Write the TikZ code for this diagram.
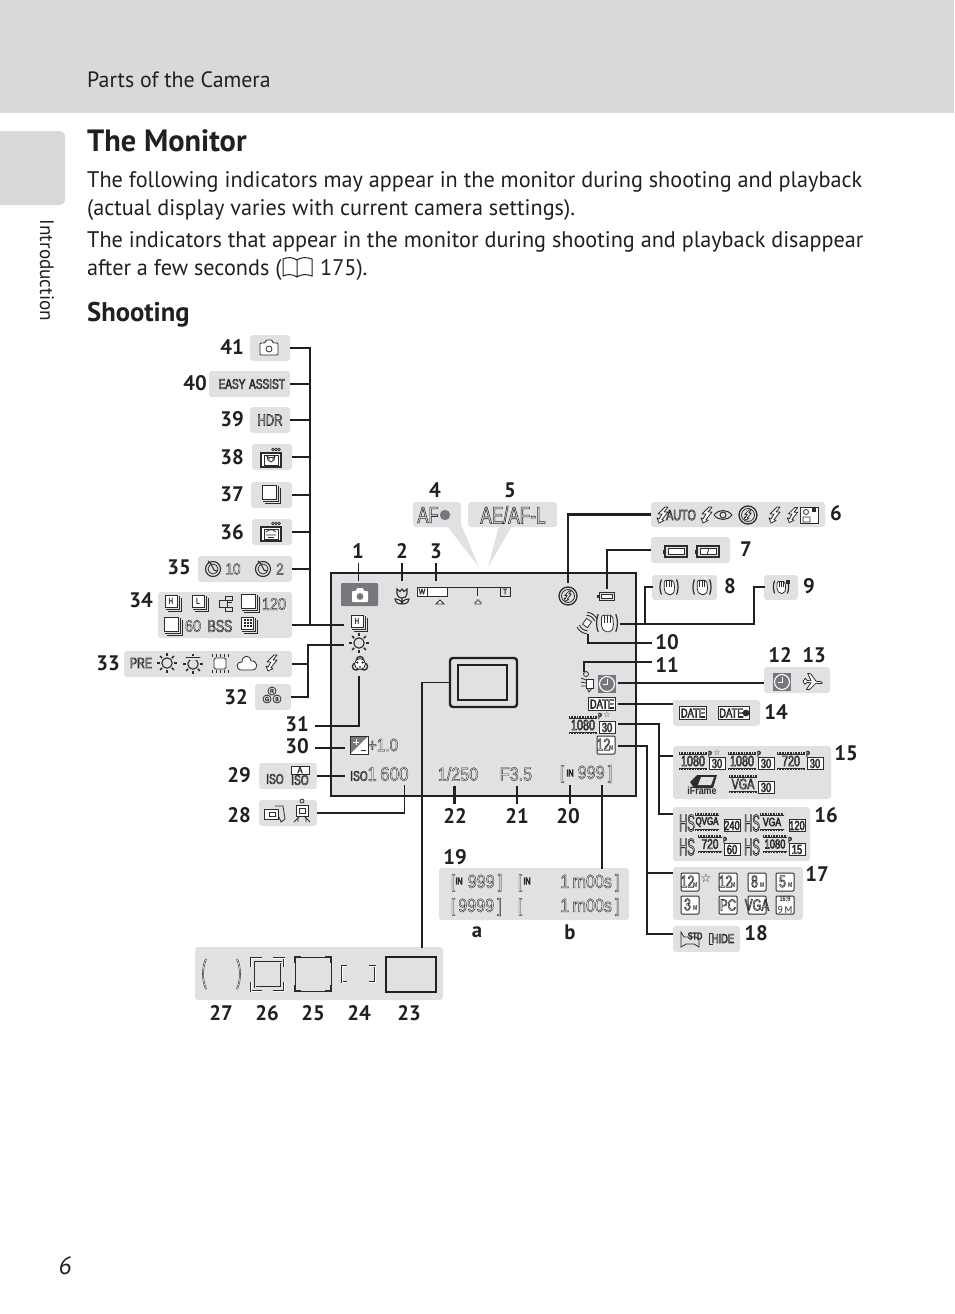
\documentclass[tikz,border=0pt]{standalone}
\usepackage{fontspec}
\usepackage{graphicx}
\setmainfont[FakeStretch=0.985]{PT Sans}
\newfontfamily\icf[FakeStretch=0.72]{Liberation Sans}
\newfontfamily\icn[FakeStretch=0.85]{Liberation Sans}
\newfontfamily\dvf{DejaVu Sans}
\usetikzlibrary{calc}
\definecolor{pan}{HTML}{E0E1E2}
\definecolor{hdr}{HTML}{D9D9D9}
\definecolor{dk}{HTML}{231F20}
\definecolor{ic}{HTML}{2C2C2E}
\definecolor{gr}{HTML}{77787B}
\newcounter{auto}
\newcommand\outl[1]{\special{pdf:code 1 Tr 0.55 w}#1\special{pdf:code 0 Tr 0.3985 w}}
\newcommand\outm[1]{\special{pdf:code 1 Tr 0.38 w}#1\special{pdf:code 0 Tr 0.3985 w}}
\newcommand\outh[1]{\special{pdf:code 1 Tr 0.8 w}#1\special{pdf:code 0 Tr 0.3985 w}}
\tikzset{
  panel/.style={fill=pan,rounded corners=3pt,inner sep=0pt},
  conn/.style={draw=dk,line width=2.5pt},
  thinconn/.style={draw=dk,line width=1.8pt},
  num/.style={font=\bfseries\fontsize{21}{21}\selectfont,text=dk,inner sep=0pt},
  body/.style={anchor=base west,inner sep=0pt,font=\fontsize{22.55}{22.55}\selectfont,text=dk},
  icl/.style={draw=ic,line width=.8pt},
  icw/.style={draw=ic,line width=.8pt,fill=white},
  ictext/.style={inner sep=0pt,text=ic},
}
\newcommand\pnl[5]{\node[panel,minimum width={#4-#2},minimum height={#5-#3}] (#1) at ({(#2+#4)/2},{(#3+#5)/2}) {};}
\newcommand\lab[3]{\stepcounter{auto}\node[num] (L\theauto) at (#1,#2) {#3};}
\newcommand\ot[4]{\stepcounter{auto}\node[ictext] (T\theauto) at (#1,#2) {\icf\fontsize{#3}{#3}\selectfont\outl{#4}};}
\newcommand\on[4]{\stepcounter{auto}\node[ictext] (T\theauto) at (#1,#2) {\icn\fontsize{#3}{#3}\selectfont\outm{#4}};}
\newcommand\hs[2]{\stepcounter{auto}\node[ictext] (T\theauto) at (#1,#2) {\scalebox{.66}[1]{\icf\fontsize{24}{24}\selectfont\outh{HS}}};}
\newcommand\boxt[4]{\stepcounter{auto}\node[ictext,draw=ic,line width=.8pt,fill=white,inner sep=1pt,minimum height=13pt] (T\theauto) at (#1,#2) {\icf\fontsize{#3}{#3}\selectfont\outl{#4}};}
\newcommand\strn[3]{\stepcounter{auto}\node[ictext] (T\theauto) at (#1,#2) {\dvf\fontsize{#3}{#3}\selectfont ☆};}
\newcommand\camout[2]{\begin{scope}[shift={(#1,#2)}]
 \draw[icl,rounded corners=1pt,fill=white] (-9,-5)--(-4,-5)--(-3,-8)--(3,-8)--(4,-5)--(9,-5)--(9,7)--(-9,7)--cycle; \draw[icl] (0,1) circle (3);\end{scope}}
\newcommand\scene[3]{\begin{scope}[shift={(#1,#2)}]
 \draw[icw,line width=1.1pt] (-10,-5) rectangle (10,9);
 \foreach \q in {3,6,9}{\draw[icl,line width=.6pt] (\q-1,-8.5) circle (1.4);}
 \draw[icl,line width=.5pt] (-7,-3) rectangle (7,7);
 \ifnum#3=1 \draw[icl,line width=.8pt] (-4,-2)--(-3,2)--(0,4)--(3,2)--(4,-2)--(2,-.5)--(-2,-.5)--cycle; \fill[ic] (-2,1) circle (.8) (2,1) circle (.8);\else \draw[icl,line width=.8pt] (-5,0)--(-2,-2)--(2,-2)--(5,0) (-5,3)--(5,3) (-3,5.5)--(3,5.5); \fi\end{scope}}
\newcommand\stk[2]{\begin{scope}[shift={(#1,#2)}]
 \draw[icl,line width=.9pt] (-6,9)--(9,9)--(9,-6) (-8,7)--(7,7)--(7,-8);
 \draw[icw,line width=1pt] (-9,-9) rectangle (5,5);\end{scope}}
\newcommand\stks[3]{\begin{scope}[shift={(#1,#2)}]
 \draw[icl,line width=.8pt] (-5,8)--(8,8)--(8,-5) (-7,6)--(6,6)--(6,-7);
 \draw[icw,line width=.9pt] (-8,-8) rectangle (4,4);
 \node[inner sep=0pt,text=ic] (S\theauto x#1) at (-2,-2) {\icf\bfseries\fontsize{9}{9}\selectfont #3};\end{scope}}
\newcommand\timer[2]{\begin{scope}[shift={(#1,#2)}]
 \draw[icl,line width=1.1pt] (0,1) circle (7.5); \draw[icl,line width=.8pt] (0,1) circle (5);
 \draw[icl,line width=1.1pt] (-5,-7)--(-2,-4) (-2,-4)--(1,2)--(4,3);\end{scope}}
\newcommand\sun[2]{\begin{scope}[shift={(#1,#2)}]
 \draw[icl,line width=1.1pt] (0,0) circle (5.2);
 \foreach \a in {0,45,...,315}{\draw[icl,line width=1.5pt] (\a:6.8)--(\a:9.8);}\end{scope}}
\newcommand\bulb[2]{\begin{scope}[shift={(#1,#2)}]
 \draw[icw,rounded corners=1.5pt] (-6,-5) rectangle (6,6);
 \foreach \a in {-8,-4,0,4,8}{\draw[icl] (\a,-9)--(\a,-6) (\a,7)--(\a,10);}\end{scope}}
\newcommand\cloud[2]{\begin{scope}[shift={(#1,#2)}]
 \draw[icw] (-5,7) .. controls (-12,7) and (-11,-2) .. (-5,-1) .. controls (-5,-8) and (3,-9) .. (4,-2) .. controls (11,-3) and (12,7) .. (5,7) -- cycle;\end{scope}}
\newcommand\bolt[2]{\begin{scope}[shift={(#1,#2)}]
 \draw[icw,line join=round] (2,-8)--(-5,-1)--(-1,-1)--(-4,4)--(-6,3)--(-4,8)--(1,5.5)--(-1,4.5)--(5,-3)--(1,-3)--(5,-8)--cycle;\end{scope}}
\newcommand\ring[2]{\begin{scope}[shift={(#1,#2)}]
 \draw[icl,line width=1.3pt] (0,-4) circle (3.6) (-4,2.5) circle (3.6) (4,2.5) circle (3.6);
 \fill[white] (0,0) circle (5.5);
 \draw[icl,line width=.8pt] (0,0) circle (5.5);
 \foreach \a in {90,210,330}{\fill[ic] (\a:3) circle (1.2);}\end{scope}}
\newcommand\batt[4]{\begin{scope}[shift={(#1,#2)},scale=#4]
 \draw[icl,line width=1.1pt] (-11,-5) rectangle (11,6); \draw[icl,line width=1.1pt] (-12.5,-1.5)--(-12.5,2.5);
 \ifnum#3=1 \draw[icl,line width=.8pt,fill=white] (-8,-2.5) rectangle (8,3.5);\else\draw[icl,line width=.8pt,fill=white] (-8,-2.5) rectangle (8,3.5);\draw[icl] (-1,3.5)--(1,-2.5);\fi\end{scope}}
\newcommand\vr[3]{\begin{scope}[shift={(#1,#2)},scale=#3]
 \draw[icl,line width=1.2pt] (-8,-8) .. controls (-10,-3) and (-10,3) .. (-8,8) (8,-8) .. controls (10,-3) and (10,3) .. (8,8);
 \draw[icw,rounded corners=2pt] (-5,-7)--(-5,4)--(-2,8)--(4,8)--(6,3)--(5,-7)--cycle;
 \draw[icl,line width=.5pt] (-2.5,-7)--(-2.5,0) (0,-7)--(0,0) (2.5,-7)--(2.5,0);\end{scope}}
\newcommand\clockg[2]{\begin{scope}[shift={(#1,#2)}]
 \fill[gr] (-9,-9) rectangle (9,9); \draw[white,line width=1.1pt] (0,0) circle (7.5); \draw[white,line width=1pt] (0,-5)--(0,0.5)--(-4,.5);\end{scope}}
\newcommand\film[5]{\begin{scope}[shift={(#1,#2)}]
 \draw[ic,line width=2pt,dash pattern=on .8pt off .8pt] (-#3,-8.2)--(#3,-8.2) (-#3,8.2)--(#3,8.2);
 \draw[icl,line width=.6pt] (-#3,-6.8)--(#3,-6.8) (-#3,6.8)--(#3,6.8);\end{scope}\ot{#1}{#2}{#4}{#5}}
\newcommand\pbx[3]{\begin{scope}[shift={(#1,#2)}]\draw[icw] (-8,-5.5) rectangle (8,6.5);\end{scope}\ot{#1}{#2+.5}{13}{#3}}
\newcommand\mbx[4]{\begin{scope}[shift={(#1,#2)}]\draw[icw,rounded corners=1pt,line width=1pt] (-9,-9) rectangle (9,9);\end{scope}\ot{#1-2.5}{#2-.5}{17}{#3}\stepcounter{auto}\node[ictext] (M\theauto) at (#1+5.3,#2+3.5) {\icf\bfseries\fontsize{7}{7}\selectfont #4};}
\begin{document}
\begin{tikzpicture}[x=1pt,y=-1pt]
\useasboundingbox (0,0) rectangle (954,1314);
% page furniture
\fill[white] (0,0) rectangle (954,1314);
\fill[hdr] (0,0) rectangle (954,113);
\fill[hdr,rounded corners=5pt] (-10,131) rectangle (65,205);
\node[body,font=\fontsize{22.2}{22.2}\selectfont] (head) at (87,87.5) {Parts of the Camera};
\node[body,font=\bfseries\fontsize{30.8}{30.8}\selectfont] (title) at (87,151) {The Monitor};
\node[body] (b1) at (87,187) {The following indicators may appear in the monitor during shooting and playback};
\node[body] (b2) at (87,215) {(actual display varies with current camera settings).};
\node[body] (b3) at (87,247) {The indicators that appear in the monitor during shooting and playback disappear};
\node[body] (b4) at (87,275) {after a few seconds (};
\draw[dk,line width=1pt,fill=white] (297,260) .. controls (293,257) and (287,257) .. (283,259) -- (283,276) .. controls (287,274) and (293,274) .. (297,277) .. controls (301,274) and (307,274) .. (312,276) -- (312,259) .. controls (307,257) and (301,257) .. (297,260) -- (297,277);
\node[body] (b5) at (320,275) {175).};
\node[body,font=\bfseries\fontsize{27}{27}\selectfont] (shoot) at (87,321) {Shooting};
\node[rotate=-90,inner sep=0pt,font=\fontsize{19.5}{19.5}\selectfont,text=dk] (intro) at (47,270.5) {Introduction};
\node[inner sep=0pt,font=\itshape\fontsize{25}{25}\selectfont,text=dk] (pg) at (65,1266) {6};
% panels
\pnl{p41}{250}{335}{290}{361}
\pnl{p40}{209}{371}{290}{397}
\pnl{p39}{250}{407}{290}{433}
\pnl{p38}{252}{444}{292}{470}
\pnl{p37}{251}{482}{292}{508}
\pnl{p36}{252}{519}{292}{545}
\pnl{p35}{198}{556}{292}{582}
\pnl{p34}{158}{592}{292}{638}
\pnl{p33}{124}{651}{292}{677}
\pnl{p32}{255}{684}{291}{710}
\pnl{p29}{259}{763}{317}{789}
\pnl{p28}{259}{800}{317}{826}
\pnl{pb}{195}{947}{443}{1000}
\pnl{p19}{439}{868}{629}{920}
\pnl{p4}{413}{502}{461}{527}
\pnl{p5}{468}{502}{557}{527}
\pnl{p6}{651}{502}{825}{527}
\pnl{p7}{651}{537}{730}{563}
\pnl{p8}{652}{575}{717}{600}
\pnl{p9}{764}{575}{798}{600}
\pnl{p12}{764}{667}{830}{693}
\pnl{p14}{673}{700}{760}{726}
\pnl{p15}{673}{746}{831}{799}
\pnl{p16}{673}{807}{810}{861}
\pnl{p17}{673}{867}{803}{920}
\pnl{p18}{673}{926}{740}{952}
\fill[pan] (447,526)--(460,522)--(479,567)--cycle;
\fill[pan] (499,526)--(512,526)--(488,567)--cycle;
% monitor
\node[draw=dk,line width=1.2pt,fill=pan,inner sep=0pt,minimum width=305pt,minimum height=223pt] (mon) at (483.5,684.5) {};
\node[draw=dk,line width=2.4pt,fill=pan,rounded corners=3pt,inner sep=0pt,minimum width=67pt,minimum height=49pt] (af) at (483.5,682.5) {};
\node[draw=dk,line width=1.2pt,inner sep=0pt,minimum width=49pt,minimum height=35pt] (afin) at (482.5,682.5) {};
% connector ends
\coordinate (busx) at (310,349);
\coordinate (c34a) at (292,625); \coordinate (c34b) at (344,625);
\coordinate (bus2) at (308,663);
\coordinate (i33) at (344,645);
\coordinate (i31) at (359,676); \coordinate (c31) at (359,726); \coordinate (l31) at (315,726);
\coordinate (l30) at (315,748); \coordinate (i30) at (345,748);
\coordinate (l29) at (p29.east); \coordinate (i29) at (345,776);
\coordinate (i28) at (404.5,785);
\coordinate (i22) at (454.5,786); \coordinate (l22) at (454.5,804);
\coordinate (i21) at (517,786); \coordinate (l21) at (517,804);
\coordinate (i20) at (570,785); \coordinate (l20) at (570,804);
\coordinate (i19) at (602,785); \coordinate (p19t) at (602,869);
\coordinate (p23t) at (422,948);
\coordinate (l1) at (358.5,563); \coordinate (i1) at (358.5,581);
\coordinate (l2) at (402,563); \coordinate (i2) at (402,581);
\coordinate (l3) at (436,563); \coordinate (i3) at (436,581);
\coordinate (i6) at (568,583); \coordinate (i7) at (607,589);
\coordinate (p8w) at (653,587); \coordinate (p9w) at (765,587); \coordinate (ivr) at (620,624);
\coordinate (x8) at (645,0); \coordinate (x9) at (754,0);
\coordinate (i10) at (588,634); \coordinate (l10) at (652,643);
\coordinate (i11) at (584,672); \coordinate (l11) at (652,662);
\coordinate (i12) at (618,683); \coordinate (p12w) at (764,683);
\coordinate (i14) at (618,704); \coordinate (p14w) at (673,704);
\coordinate (i15) at (618,724); \coordinate (x15) at (659,0); \coordinate (p15w) at (673,756); \coordinate (p16w) at (673,814);
\coordinate (i17) at (618,746); \coordinate (x17) at (647,0); \coordinate (p17w) at (673,873); \coordinate (p18w) at (673,934);
% connectors
\draw[conn] (p41.east) -- (p41.east -| busx) -- (c34a -| busx);
\foreach \n in {p40,p39,p38,p37,p36,p35}{\draw[conn] (\n.east) -- (\n.east -| busx);}
\draw[thinconn] (c34a) -- (c34b);
\draw[conn] (i33) -- (i33 -| bus2) -- (p32.east -| bus2) -- (p32.east);
\draw[conn] (p33.east) -- (p33.east -| bus2);
\draw[conn] (i31) -- (c31) -- (l31);
\draw[conn] (l30) -- (i30);
\draw[conn] (l29) -- (i29);
\draw[thinconn] (p28.east) -- (p28.east -| i28) -- (i28);
\draw[conn] (i22) -- (l22);
\draw[conn] (i21) -- (l21);
\draw[thinconn] (i20) -- (l20);
\draw[thinconn] (i19) -- (p19t);
\draw[thinconn] (p23t) -- (p23t |- af.west) -- (af.west);
\draw[thinconn] (l1) -- (i1);
\draw[thinconn] (l2) -- (i2);
\draw[thinconn] (l3) -- (i3);
\draw[conn] (p6.west) -- (i6 |- p6.west) -- (i6);
\draw[conn] (p7.west) -- (i7 |- p7.west) -- (i7);
\draw[conn] (p8w) -- (p8w -| x8) -- (ivr -| x8);
\draw[conn] (p9w) -- (p9w -| x9) -- (ivr -| x9) -- (ivr);
\draw[conn] (i10) -- (i10 |- l10) -- (l10);
\draw[conn] (i11) -- (i11 |- l11) -- (l11);
\draw[conn] (i12) -- (p12w);
\draw[conn] (i14) -- (p14w);
\draw[conn] (i15) -- (i15 -| x15) -- (p16w -| x15) -- (p16w);
\draw[conn] (p15w -| x15) -- (p15w);
\draw[conn] (i17) -- (i17 -| x17) -- (p18w -| x17) -- (p18w);
\draw[conn] (p17w -| x17) -- (p17w);
% numbers
\lab{232}{347}{41}\lab{195}{383}{40}\lab{232}{419}{39}\lab{232}{457}{38}\lab{232}{494}{37}\lab{232}{532}{36}
\lab{179}{567}{35}\lab{141}{600}{34}\lab{108}{663}{33}\lab{236}{697}{32}\lab{297}{724}{31}\lab{297}{746}{30}
\lab{239}{775}{29}\lab{239}{815}{28}\lab{358}{551}{1}\lab{402}{551}{2}\lab{436}{551}{3}\lab{435}{490}{4}\lab{510}{490}{5}
\lab{836}{513}{6}\lab{746}{549}{7}\lab{730}{586}{8}\lab{809}{586}{9}\lab{667}{642}{10}\lab{667}{665}{11}
\lab{780}{655}{12}\lab{814}{655}{13}\lab{776}{712}{14}\lab{846}{753}{15}\lab{826}{815}{16}\lab{817}{874}{17}\lab{756}{933}{18}
\lab{455}{857}{19}\lab{568}{816}{20}\lab{517}{816}{21}\lab{455}{816}{22}\lab{409}{1013}{23}\lab{359}{1013}{24}\lab{313}{1013}{25}\lab{267}{1013}{26}\lab{221}{1013}{27}
\lab{477}{932}{a}\lab{570}{932}{b}
% left column icons
\camout{269}{348}
\ot{232}{384}{14}{EASY}\ot{267}{384}{14}{ASSIST}\ot{270}{420}{16}{HDR}
\scene{271}{458}{1}\stk{271}{494}\scene{271}{532}{2}
\timer{213}{568}\on{233}{569}{16}{10}\timer{263}{568}\on{280}{569}{16}{2}
\stks{173}{603}{H}\stks{200}{603}{L}
\begin{scope}[shift={(225,603)}]\draw[icl,line width=.9pt] (-6,-3) rectangle (2,4) (2,-1)--(7,-1) (0,-7) rectangle (7,-3) (0,4) rectangle (7,8);\end{scope}
\stk{250}{603}\on{274}{604}{17}{120}
\stk{173}{626}\on{193}{626}{17}{60}\ot{220}{626}{17}{BSS}
\stks{249}{625}{}
\foreach \xx in {-4,-1,2}{\foreach \yy in {-5,-2,1}{\fill[ic] (249+\xx-1,625+\yy-1) rectangle +(2,2);}}
\ot{141}{663}{15}{PRE}\sun{167}{663}
\sun{193}{664}\fill[pan] (186,655.5) rectangle (200,659.5);\draw[icl,line width=1.2pt] (186,657.5)--(200,657.5);
\bulb{220}{663}\cloud{247}{663}\bolt{272}{663}
\begin{scope}[shift={(272,697)}]\draw[icl,line width=.8pt] (0,-6) circle (4) (-5,2) circle (4) (5,2) circle (4);\end{scope}
\on{272}{691}{6}{R}\on{267}{699}{6}{G}\on{277}{699}{6}{B}
\stks{359}{623}{H}\sun{359}{643}\ring{360}{664}
\fill[gr,rounded corners=1pt] (341,583) rectangle (378,606);
\begin{scope}[shift={(360,595)}]\fill[white,rounded corners=.8pt] (-8,-4)--(-4,-4)--(-3,-7)--(3,-7)--(4,-4)--(8,-4)--(8,7)--(-8,7)--cycle;\fill[gr] (0,1.5) circle (3.4);\end{scope}
% tulip
\begin{scope}[shift={(402,596)}]\draw[icl,line width=1.1pt] (-5,-7)--(-2,-4.5)--(0,-7)--(2,-4.5)--(5,-7)--(5,-2) .. controls (5,1) and (2,2) .. (0,2) .. controls (-2,2) and (-5,1) .. (-5,-2) --cycle (0,2)--(0,8) (0,8) .. controls (-6,8) and (-7,5) .. (-7,3) .. controls (-3,3) and (0,5) .. (0,8) (0,8) .. controls (6,8) and (7,5) .. (7,3) .. controls (3,3) and (0,5) .. (0,8);\end{scope}
% zoom bar
\draw[icl] (417,587)--(510,587)--(510,596)--(500,596)--(500,588) (447,588)--(447,596) (477,587)--(477,596);
\draw[icw] (417,587) rectangle (427,596); \draw[icw,line width=.9pt] (427,587) rectangle (447,596);
\draw[icl,fill=white] (436,604)--(440,600)--(444,604)--cycle (475,604)--(475,602)--(477,602)--(477,600)--(479,600)--(479,602)--(481,602)--(481,604)--cycle;
\on{422}{591.5}{8}{W}\on{505}{591.5}{8}{T}
% 4 5 6
\ot{428}{515}{23}{AF}\fill[gr] (445,515) circle (5.2);
\ot{513}{515}{24}{AE/AF-L}
\bolt{663}{515}\ot{681}{515}{15}{AUTO}\bolt{707}{515}
\begin{scope}[shift={(723,515)}]\draw[icl,line width=1pt] (-9,0) .. controls (-4,-6) and (4,-6) .. (9,0) .. controls (4,6) and (-4,6) .. (-9,0);\draw[icl,line width=1pt] (0,0) circle (3);\end{scope}
\begin{scope}[shift={(748,515)}]\draw[icl,line width=1.3pt] (0,0) circle (9);\draw[icl] (0,0) circle (6.5);\end{scope}
\begin{scope}[shift={(748,515)},scale=.65]\bolt{0}{0}\end{scope}
\bolt{775}{515}
\begin{scope}[shift={(793,515)},scale=.95]\bolt{0}{0}\end{scope}
\begin{scope}[shift={(809,515)}]\draw[icw] (-9,-8) rectangle (9,8);\draw[icl] (-3,-3) circle (2.5) (-6,7) rectangle (1,2);\fill[ic] (3,-7) rectangle (7,-3);\end{scope}
\begin{scope}[shift={(568,596)}]\draw[icl,line width=1.3pt] (0,0) circle (9);\draw[icl] (0,0) circle (6.5);\end{scope}
\begin{scope}[shift={(568,596)},scale=.65]\bolt{0}{0}\end{scope}
\batt{676}{551}{1}{1}\batt{708}{551}{2}{1}\batt{607}{596}{1}{.72}
\vr{669}{587}{.95}\vr{702}{587}{.95}\vr{781}{587}{.8}
\fill[ic] (786,580) rectangle (790,584);
\fill[white] (705,578) circle (1.5);
\vr{607}{623}{1.1}
\begin{scope}[shift={(587,623)},rotate=-35]\draw[icl,fill=white] (-3,-3.5) rectangle (3,3.5);
\draw[icl,line width=.9pt] (-5,-6) .. controls (-2,-8) and (2,-8) .. (5,-6) (-6,-9) .. controls (-2,-11) and (2,-11) .. (6,-9) (-5,6) .. controls (-2,8) and (2,8) .. (5,6) (-6,9) .. controls (-2,11) and (2,11) .. (6,9);\end{scope}
\begin{scope}[shift={(588,682)}]\draw[icw] (-2,-3) rectangle (5,6);\draw[icl] (-1,6)--(1,10)--(4,6);\draw[icl] (-7,-4)--(-2,-2) (-7,0)--(-2,1) (-7,4)--(-2,4);\draw[icl] (-2,-8) circle (2.5);\end{scope}
\clockg{607}{684}
\clockg{782}{682}
\begin{scope}[shift={(813,682)},rotate=-5]\draw[icw,line join=round] (-10,0)--(-8,-3)--(-6,-1)--(-2,-1)--(-6,-8)--(-3,-8)--(3,-1)--(7,-1) .. controls (10,-1) and (10,1) .. (7,1)--(3,1)--(-3,8)--(-6,8)--(-2,1)--(-6,1)--(-8,3)--cycle;\end{scope}
\boxt{602}{704}{13}{DATE}\boxt{693}{713}{13}{DATE}\boxt{734}{713}{13}{DATE\ \ }
\fill[ic] (746,713) circle (3.4);
% 15 etc
\film{583}{725}{14}{15}{1080}\pbx{607}{727}{30}\ot{600}{716}{8}{P}\strn{607}{715}{8}
\mbx{606}{745}{12}{M}
\film{693}{761}{14}{15}{1080}\pbx{717}{763}{30}\ot{710}{754}{8}{P}\strn{717}{753}{8}
\film{742}{761}{14}{15}{1080}\pbx{766}{763}{30}\ot{759}{754}{8}{P}
\film{791}{761}{14}{15}{720}\pbx{815}{763}{30}\ot{808}{754}{8}{P}
\begin{scope}[shift={(702,782)}]\fill[ic] (-12,0)--(-5,-7)--(15,-7)--(11,6)--(-8,6)--cycle;\fill[pan] (-1,-5)--(12,-5)--(9,3)--(-4,3)--cycle;\end{scope}
\stepcounter{auto}\node[ictext] (T\theauto) at (702,791) {\icn\bfseries\fontsize{10.5}{10.5}\selectfont iFrame};
\film{743}{784}{14}{15}{VGA}\pbx{766}{787}{30}
\hs{687}{823}\film{707}{822}{12}{11}{QVGA}\pbx{732}{825}{240}
\hs{752}{823}\film{772}{822}{12}{12}{VGA}\pbx{797}{825}{120}
\hs{687}{847}\film{710}{844}{12}{14}{720}\pbx{732}{849}{60}\ot{725}{840}{8}{P}
\hs{752}{847}\film{775}{844}{12}{13}{1080}\pbx{797}{849}{15}\ot{790}{840}{8}{P}
\mbx{690}{882}{12}{M}\strn{706}{878}{12}\mbx{728}{882}{12}{M}\mbx{757}{882}{8}{M}\mbx{785}{882}{5}{M}
\mbx{690}{905}{3}{M}
\begin{scope}[shift={(728,905)}]\draw[icw,rounded corners=1pt,line width=1pt] (-9,-9) rectangle (9,9);\end{scope}\ot{728}{905}{16}{PC}
\begin{scope}[shift={(757,905)}]\draw[icw,rounded corners=1pt,line width=1pt] (-9,-9) rectangle (9,9);\end{scope}\ot{757}{905}{16}{VGA}
\begin{scope}[shift={(785,905)}]\draw[icw,rounded corners=1pt,line width=1pt] (-9,-9) rectangle (9,9);\end{scope}\stepcounter{auto}\node[ictext,align=center] (T\theauto) at (785,905) {\icf\bfseries\fontsize{7.5}{8}\selectfont 16:9\\9\,M};
\begin{scope}[shift={(690,940)}]\draw[icl] (-9,-8)--(-6,-3)--(6,-3)--(9,0)--(9,7)--(4,4)--(-4,4)--(-9,7)--cycle;\end{scope}\ot{695}{936}{10}{STD}
\draw[icl,line width=1pt] (713,933)--(709,933)--(709,944)--(713,944);\ot{723}{938.5}{13}{HIDE}
% monitor texts
\begin{scope}[shift={(359,745)}]\draw[icw,line width=1pt] (-9,-9) rectangle (9,9);\fill[gr] (-8,8)--(8,-8)--(-8,-8)--cycle;\draw[white,line width=1pt] (-6,-3)--(0,-3) (-3,-6)--(-3,0);\draw[icl] (2,5)--(7,5);\end{scope}
\on{383}{745}{18}{+1.0}
\ot{359}{776}{14}{ISO}\on{388}{774}{20}{1\,600}
\ot{275}{779}{14}{ISO}
\begin{scope}[shift={(300,774)}]\draw[icw] (-9,-8) rectangle (9,0);\end{scope}\on{300}{770}{9}{A}\ot{300}{780}{14}{ISO}
\begin{scope}[shift={(275,813)}]\draw[icw] (-11,-4) rectangle (3,6);\draw[icl] (-6,-1) rectangle (0,3);\draw[icl] (0,-7)--(8,-7)--(10,6)--(6,9)--(4,4);\end{scope}
\begin{scope}[shift={(302,812)}]\draw[icw] (-6,-7) rectangle (6,4);\draw[icl] (-3,-4) rectangle (3,1);\draw[icl] (0,-11) circle (2) (-2,4)--(-8,10) (2,4)--(8,10) (-4,4)--(-4,10) (4,4)--(4,10);\end{scope}
\on{458}{774}{19}{1/250}\on{516}{774}{19}{F3.5}
\on{562}{774}{18}{[}\ot{570}{773}{10}{IN}\on{595}{774}{19}{999\,]}
% panel 19
\on{453}{883}{18}{[}\ot{459}{881}{10}{IN}\on{485}{883}{19}{999\,]}
\on{453}{907}{18}{[}\on{480}{907}{19}{9999\,]}
\on{520}{883}{18}{[}\ot{527}{881}{10}{IN}\on{590}{883}{19}{1\,m00s\,]}
\on{520}{907}{18}{[}\on{590}{907}{19}{1\,m00s\,]}
% frames
\draw[ic,line width=1.6pt] (206,959) .. controls (202,968) and (202,980) .. (206,989) (237,959) .. controls (241,968) and (241,980) .. (237,989);
\draw[white,line width=.5pt] (206,959) .. controls (202,968) and (202,980) .. (206,989) (237,959) .. controls (241,968) and (241,980) .. (237,989);
\draw[ic,line width=1.6pt] (251,967)--(251,958)--(262,958) (273,958)--(284,958)--(284,967) (251,982)--(251,991)--(262,991) (273,991)--(284,991)--(284,982);
\draw[white,line width=.5pt] (251,967)--(251,958)--(262,958) (273,958)--(284,958)--(284,967) (251,982)--(251,991)--(262,991) (273,991)--(284,991)--(284,982);
\draw[icl,line width=1.6pt] (255,962) rectangle (281,987);
\draw[pan,line width=.5pt] (255,962) rectangle (281,987);
\draw[icl,line width=1.3pt] (295,957) rectangle (331,991);
\draw[pan,line width=1.8pt] (301,957)--(325,957) (301,991)--(325,991) (295,963)--(295,985) (331,963)--(331,985);
\draw[icl,line width=.5pt] (301,957)--(325,957) (301,991)--(325,991) (295,963)--(295,985) (331,963)--(331,985);
\draw[ic,line width=1.8pt] (347,966)--(342,966)--(342,982)--(347,982) (369,966)--(375,966)--(375,982)--(369,982);
\draw[white,line width=.6pt] (347,966)--(342,966)--(342,982)--(347,982) (369,966)--(375,966)--(375,982)--(369,982);
\node[draw=dk,line width=1.6pt,inner sep=0pt,minimum width=50pt,minimum height=35pt] (f23) at (411,974.5) {};
\end{tikzpicture}
\end{document}
